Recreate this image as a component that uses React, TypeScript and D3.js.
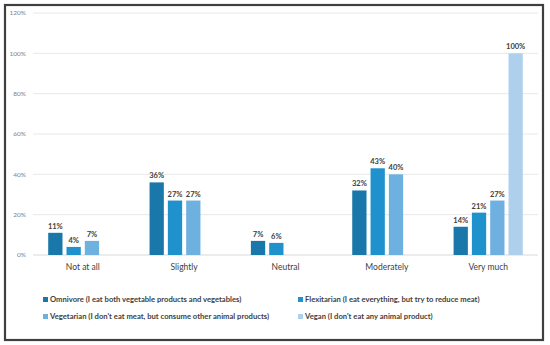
import React from "react";
import * as d3 from "d3";

const categories = ["Not at all", "Slightly", "Neutral", "Moderately", "Very much"];
const seriesNames = [
  "Omnivore (I eat both vegetable products and vegetables)",
  "Flexitarian (I eat everything, but try to reduce meat)",
  "Vegetarian (I don't eat meat, but consume other animal products)",
  "Vegan (I don't eat any animal product)",
];
const omnivore = [11, 36, 7, 32, 14];
const flexitarian = [4, 27, 6, 43, 21];
const vegetarian = [7, 27, 0, 40, 27];
const vegan = [0, 0, 0, 0, 100];
const yTicks = [0, 20, 40, 60, 80, 100, 120];
const colors = ["#1a77aa", "#1f91cd", "#6eb0e0", "#afd0ec"];

const series = [omnivore, flexitarian, vegetarian, vegan];

export default function App() {
  const W = 550;
  const H = 345;
  const left = 33;
  const right = 538;
  const top = 13;
  const bottom = 255;
  const y = d3.scaleLinear().domain([0, 120]).range([bottom, top]);
  const x0 = d3
    .scaleBand<string>()
    .domain(categories)
    .range([left, right])
    .paddingInner(0.317)
    .paddingOuter(0.15);
  const x1 = d3
    .scaleBand<number>()
    .domain(d3.range(series.length))
    .range([0, x0.bandwidth()])
    .paddingInner(0.22)
    .paddingOuter(0);
  const font = "Lato, 'Open Sans', sans-serif";
  const legendPos = [
    [43, 300],
    [298, 300],
    [43, 317],
    [298, 317],
  ];
  return (
    <svg
      width={W}
      height={H}
      style={{ position: "absolute", left: 0, top: 0, background: "#fff" }}
      fontFamily={font}
    >
      <rect x={0} y={0} width={W} height={H} fill="#fff" />
      <rect x={5} y={5} width={538} height={335} fill="#fff" stroke="#3f3f3f" strokeWidth={2.2} />
      {yTicks.map((t) => (
        <g key={t}>
          <line x1={left} x2={right} y1={y(t)} y2={y(t)} stroke={t === 0 ? "#d9d9d9" : "#e8e8e8"} strokeWidth={1} />
          <text x={26} y={y(t) + 2.3} textAnchor="end" fontSize={6.5} fill="#7f7f7f">
            {t}%
          </text>
        </g>
      ))}
      {categories.map((c, ci) => (
        <g key={c} transform={`translate(${x0(c)},0)`}>
          {series.map((s, si) =>
            s[ci] > 0 ? (
              <g key={si}>
                <rect
                  x={x1(si)}
                  y={y(s[ci])}
                  width={x1.bandwidth()}
                  height={bottom - y(s[ci])}
                  fill={colors[si]}
                />
                <text
                  x={(x1(si) as number) + x1.bandwidth() / 2}
                  y={y(s[ci]) - 4}
                  textAnchor="middle"
                  fontSize={7.5}
                  fontWeight="bold"
                  fill="#404040"
                >
                  {s[ci]}%
                </text>
              </g>
            ) : null
          )}
          <text x={x0.bandwidth() / 2} y={270} textAnchor="middle" fontSize={8.5} fill="#404040">
            {c}
          </text>
        </g>
      ))}
      {seriesNames.map((n, i) => (
        <g key={n}>
          <rect x={legendPos[i][0]} y={legendPos[i][1] - 3} width={5} height={5} fill={colors[i]} />
          <text x={legendPos[i][0] + 7} y={legendPos[i][1] + 2.4} fontSize={7.65} fontWeight="bold" fill="#404040">
            {n}
          </text>
        </g>
      ))}
    </svg>
  );
}
